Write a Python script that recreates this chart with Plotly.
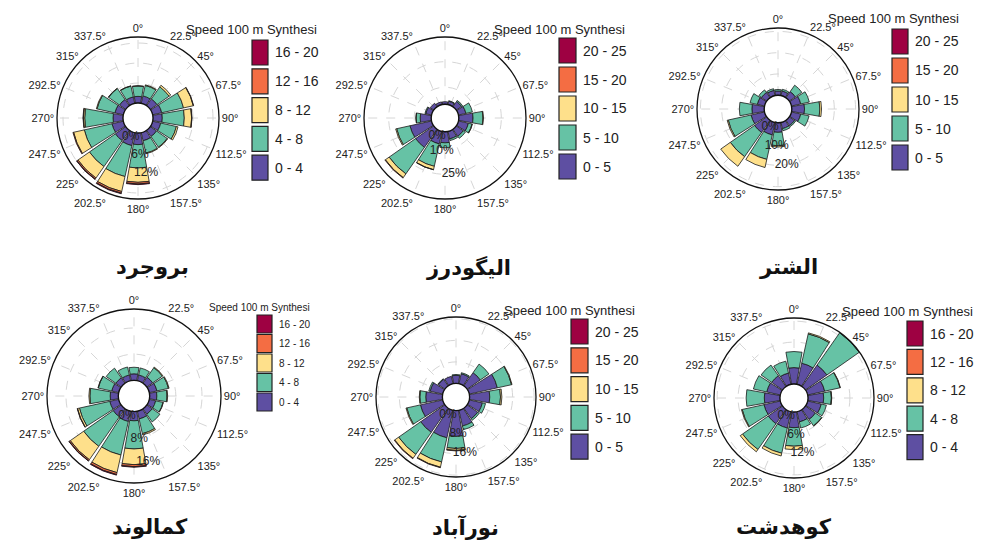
import plotly.graph_objects as go

# ---------------- data ----------------
directions = [0, 22.5, 45, 67.5, 90, 112.5, 135, 157.5,
              180, 202.5, 225, 247.5, 270, 292.5, 315, 337.5]
dir_labels = ["0°", "22.5°", "45°", "67.5°", "90°", "112.5°", "135°", "157.5°",
              "180°", "202.5°", "225°", "247.5°", "270°", "292.5°", "315°", "337.5°"]

station_names = ["بروجرد", "الیگودرز", "الشتر", "کمالوند", "نورآباد", "کوهدشت"]

bins_4 = ["0 - 4", "4 - 8", "8 - 12", "12 - 16", "16 - 20"]
bins_5 = ["0 - 5", "5 - 10", "10 - 15", "15 - 20", "20 - 25"]
bin_colors = ["#5E4FA2", "#66C2A5", "#FEE08B", "#F46D43", "#9E0142"]
legend_title = "Speed 100 m Synthesi"

# frequency (%) per speed bin (rows, lowest bin first) and direction (columns)
boroujerd = [
    [2.0, 2.3, 2.5, 2.8, 2.8, 2.5, 2.3, 2.5, 3.5, 4.0, 3.8, 3.5, 3.0, 2.6, 2.3, 2.0],
    [3.1, 3.2, 4.4, 6.7, 6.6, 4.8, 3.9, 3.8, 7.0, 9.5, 9.5, 8.5, 8.5, 5.5, 4.0, 3.3],
    [0.1, 0.2, 0.6, 3.0, 2.2, 0.5, 0.2, 0.2, 4.3, 4.6, 4.2, 3.3, 0.4, 0.2, 0.1, 0.1],
    [0, 0, 0, 0.1, 0.1, 0, 0, 0, 0.5, 0.5, 0.4, 0.2, 0.1, 0, 0, 0],
    [0, 0, 0, 0, 0, 0, 0, 0, 0.2, 0.2, 0.1, 0, 0, 0, 0, 0],
]
aligudarz = [
    [1.5, 2.0, 3.8, 4.5, 8.4, 6.0, 5.0, 4.5, 6.5, 7.5, 13.0, 13.0, 6.5, 3.5, 2.5, 1.6],
    [0, 0.3, 0.7, 3.9, 5.8, 2.2, 1.5, 1.0, 2.9, 13.5, 19.0, 8.0, 2.4, 0.5, 0, 0],
    [0, 0, 0, 0, 0.3, 0.2, 0, 0, 0, 2.0, 2.7, 0.6, 0.1, 0, 0, 0],
    [0, 0, 0, 0, 0, 0, 0, 0, 0, 0.1, 0.3, 0, 0, 0, 0, 0],
    [0, 0, 0, 0, 0, 0, 0, 0, 0, 0, 0, 0, 0, 0, 0, 0],
]
alashtar = [
    [2.0, 2.2, 3.5, 4.5, 6.0, 4.5, 3.0, 3.0, 4.5, 6.0, 7.0, 6.5, 5.8, 3.5, 3.0, 2.5],
    [0.7, 0.8, 3.7, 4.1, 7.2, 4.0, 0.6, 1.0, 6.3, 11.8, 13.9, 11.0, 5.9, 3.5, 1.5, 0.8],
    [0, 0, 0, 0, 0.8, 0, 0, 0, 0.6, 3.9, 5.5, 0.5, 0, 0, 0, 0],
    [0, 0, 0, 0, 0, 0, 0, 0, 0, 0, 0, 0, 0, 0, 0, 0],
    [0, 0, 0, 0, 0, 0, 0, 0, 0, 0, 0, 0, 0, 0, 0, 0],
]
kamalvand = [
    [2.0, 1.8, 2.2, 2.4, 2.2, 2.0, 2.0, 2.4, 2.8, 3.2, 3.0, 2.8, 2.5, 2.2, 2.0, 1.8],
    [2.0, 2.2, 3.6, 3.6, 3.1, 2.3, 2.9, 4.6, 8.6, 10.5, 11.0, 9.5, 6.2, 4.2, 3.6, 2.5],
    [0, 0, 0.2, 0.2, 0.2, 0.1, 0, 0.4, 4.8, 5.5, 5.0, 0.6, 0.3, 0.1, 0, 0],
    [0, 0, 0, 0, 0, 0, 0, 0, 0.6, 0.6, 0.4, 0.1, 0, 0, 0, 0],
    [0, 0, 0, 0, 0, 0, 0, 0, 0.2, 0.2, 0.1, 0, 0, 0, 0, 0],
]
nurabad = [
    [3.0, 3.8, 6.0, 10.7, 7.5, 5.0, 4.8, 6.0, 9.6, 10.5, 11.0, 8.5, 6.2, 4.8, 3.0, 2.8],
    [0.3, 0.4, 3.9, 5.4, 4.0, 1.2, 0.7, 1.4, 4.5, 9.2, 10.0, 5.2, 2.2, 0.5, 0.2, 0],
    [0, 0, 0, 0.2, 0.5, 0, 0, 0, 0.7, 2.0, 1.8, 0.3, 0.2, 0, 0, 0],
    [0, 0, 0, 0, 0, 0, 0, 0, 0.2, 0.2, 0.2, 0, 0, 0, 0, 0],
    [0, 0, 0, 0, 0, 0, 0, 0, 0, 0, 0, 0, 0, 0, 0, 0],
]
kuhdasht = [
    [4.7, 6.2, 7.5, 5.0, 4.5, 4.0, 3.5, 3.0, 4.5, 4.8, 5.0, 4.8, 4.5, 4.0, 3.8, 3.3],
    [4.6, 8.6, 11.3, 4.5, 2.2, 1.5, 2.2, 1.8, 5.3, 7.4, 9.0, 6.4, 5.2, 3.9, 3.7, 3.5],
    [0, 0.3, 0.9, 0.1, 0.1, 0, 0.1, 0, 1.0, 0.8, 0.8, 0.2, 0, 0, 0, 0],
    [0, 0, 0, 0, 0, 0, 0, 0, 0, 0, 0, 0, 0, 0, 0, 0],
    [0, 0, 0, 0, 0, 0, 0, 0, 0, 0, 0, 0, 0, 0, 0, 0],
]

station_data = [boroujerd, aligudarz, alashtar, kamalvand, nurabad, kuhdasht]
station_bins = [bins_4, bins_5, bins_5, bins_4, bins_5, bins_4]
radial_ticks = [[0, 6, 12, 18], [0, 10, 25], [0, 10, 20, 30],
                [0, 8, 16], [0, 8, 16, 24], [0, 6, 12, 18]]
radial_ticktext = [["0%", "6%", "12%", ""], ["0%", "10%", "25%"], ["0%", "10%", "20%", ""],
                   ["0%", "8%", "16%"], ["0%", "8%", "16%", ""], ["0%", "6%", "12%", ""]]

# ---------------- layout (pixel geometry) ----------------
W, H = 983, 546
# centre x, centre y, outer radius (px), hole fraction, radial max
panels = [
    (138, 118, 81, 0.185, 19.8),
    (445, 118, 81, 0.17, 39.5),
    (778, 109, 81, 0.17, 31.6),
    (134, 396, 87, 0.18, 21.8),
    (456, 397, 80, 0.17, 24.7),
    (794, 398, 80, 0.175, 18.9),
]
# legend: box x0, x1, first box top, step, box height, font size, title x, title y
legends = [
    (252, 268, 40, 28.8, 25, 14, 184, 29),
    (559, 576, 38, 29.0, 25, 14, 492, 29),
    (892, 908, 29, 29.0, 25, 14, 826, 19),
    (257, 272, 315, 19.5, 18, 10, 207, 307),
    (571, 588, 319, 28.8, 25, 14, 502, 310),
    (907, 923, 321, 28.4, 25, 14, 840, 311),
]
title_pos = [(152, 267), (468, 267), (788, 267), (150, 527), (465, 527), (784, 527)]


def px(x):
    return x / W


def py(y):
    return 1 - y / H


fig = go.Figure()
layout_updates = {}
shapes = []
annotations = []

for i, (data, bins) in enumerate(zip(station_data, station_bins)):
    sub = "polar" if i == 0 else f"polar{i + 1}"
    for b in range(5):
        fig.add_trace(go.Barpolar(
            r=data[b], theta=directions, width=20,
            name=bins[b], subplot=sub, showlegend=False,
            marker=dict(color=bin_colors[b], line=dict(color="#1a1a1a", width=0.8)),
        ))
    cx, cy, R, hole, rmax = panels[i]
    layout_updates[sub] = dict(
        domain=dict(x=[px(cx - R), px(cx + R)], y=[py(cy + R), py(cy - R)]),
        hole=hole,
        bgcolor="rgba(0,0,0,0)",
        barmode="stack",
        angularaxis=dict(
            direction="clockwise", rotation=90,
            tickmode="array", tickvals=directions, ticktext=dir_labels,
            showline=True, linecolor="#111", linewidth=1.3,
            gridcolor="#d6d6d6", griddash="dash", ticks="",
            tickfont=dict(size=11, color="#222", family="Liberation Sans, Arial"),
        ),
        radialaxis=dict(
            range=[0, rmax], tickmode="array",
            tickvals=radial_ticks[i], ticktext=radial_ticktext[i],
            angle=-62, tickangle=-62, showline=False, ticks="",
            gridcolor="#d6d6d6", griddash="dash",
            tickfont=dict(size=12, color="#222", family="Liberation Sans, Arial"),
        ),
    )

    # legend built from the bin labels and colours
    x0, x1, top, step, bh, fs, tx, ty = legends[i]
    annotations.append(dict(
        x=px(tx), y=py(ty), xref="paper", yref="paper", xanchor="left", yanchor="middle",
        text=legend_title, showarrow=False,
        font=dict(size=fs - 1 if fs > 10 else 10, color="#222", family="Liberation Sans, Arial"),
    ))
    for k in range(5):
        b = 4 - k
        y0 = top + k * step
        shapes.append(dict(
            type="rect", xref="paper", yref="paper",
            x0=px(x0), x1=px(x1), y0=py(y0 + bh), y1=py(y0),
            fillcolor=bin_colors[b], line=dict(color="#222", width=1.2),
        ))
        annotations.append(dict(
            x=px(x1 + 5), y=py(y0 + bh / 2), xref="paper", yref="paper",
            xanchor="left", yanchor="middle", text=bins[b], showarrow=False,
            font=dict(size=fs, color="#222", family="Liberation Sans, Arial"),
        ))

    # station name
    sx, sy = title_pos[i]
    annotations.append(dict(
        x=px(sx), y=py(sy), xref="paper", yref="paper", xanchor="center", yanchor="middle",
        text="<b>" + station_names[i] + "</b>", showarrow=False,
        font=dict(size=21, color="#111", family="Times New Roman, DejaVu Serif, DejaVu Sans, serif"),
    ))

fig.update_layout(
    width=W, height=H,
    margin=dict(l=0, r=0, t=0, b=0),
    paper_bgcolor="white", plot_bgcolor="white",
    shapes=shapes, annotations=annotations,
    **layout_updates,
)

fig.write_html("out.html", config={"displayModeBar": False},
               post_script="document.body.style.margin='0';")
